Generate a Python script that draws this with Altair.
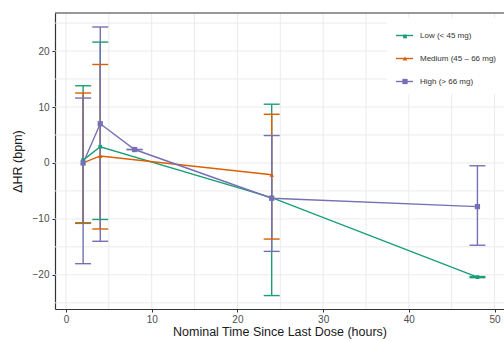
import altair as alt
import pandas as pd

groups = ["Low (< 45 mg)", "Medium (45 – 66 mg)", "High (> 66 mg)"]
codes = ["L", "M", "H"]
colors = ["#1b9e77", "#d95f02", "#7570b3"]
shapes = ["square", "triangle-up", "square"]
marker_sizes = [14, 28, 36]

low_time = [2, 4, 24, 48]
low_mean = [0.5, 2.9, -6.2, -20.4]
low_lower = [-10.7, -10.1, -23.7, -20.5]
low_upper = [13.8, 21.6, 10.5, -20.3]

med_time = [2, 4, 24]
med_mean = [0.0, 1.25, -2.1]
med_lower = [-10.8, -11.8, -13.6]
med_upper = [12.5, 17.6, 8.7]

high_time = [2, 4, 8, 24, 48]
high_mean = [0.0, 7.0, 2.4, -6.3, -7.8]
high_lower = [-18.0, -14.0, 2.4, -15.8, -14.7]
high_upper = [11.6, 24.3, 2.4, 4.9, -0.5]

x_ticks = [0, 10, 20, 30, 40, 50]
y_ticks = [-20, -10, 0, 10, 20]
x_grid = [0, 5, 10, 15, 20, 25, 30, 35, 40, 45, 50]
y_grid = [-25, -20, -15, -10, -5, 0, 5, 10, 15, 20, 25]

rows = []
series = [
    (low_time, low_mean, low_lower, low_upper),
    (med_time, med_mean, med_lower, med_upper),
    (high_time, high_mean, high_lower, high_upper),
]
for g, c, (t, m, lo, hi) in zip(groups, codes, series):
    for i in range(len(t)):
        rows.append(dict(group=g, code=c, time=t[i], mean=m[i], lower=lo[i], upper=hi[i]))
df = pd.DataFrame(rows)

W, H = 449, 296
FONT = "Liberation Sans"
xscale = alt.Scale(domain=[-1.28, 51.1], nice=False, zero=False)
yscale = alt.Scale(domain=[-26.1, 26.8], nice=False, zero=False)
xaxis = alt.Axis(values=x_ticks, grid=False, title="Nominal Time Since Last Dose (hours)",
                 labelFontSize=10, titleFontSize=12.5, titlePadding=1, tickSize=3, labelPadding=2)
yaxis = alt.Axis(values=y_ticks, grid=False, title="ΔHR (bpm)",
                 labelFontSize=10, titleFontSize=12.5, titlePadding=8, tickSize=3, labelPadding=3)


def X(field):
    return alt.X(field, type="quantitative", scale=xscale, axis=xaxis)


def Y(field):
    return alt.Y(field, type="quantitative", scale=yscale, axis=yaxis)


stroke_scale = alt.Scale(domain=groups, range=colors)
code_fill = alt.Scale(domain=codes, range=colors)
code_shape = alt.Scale(domain=codes, range=shapes)
code_size = alt.Scale(domain=codes, range=marker_sizes)

line_legend = alt.Legend(
    orient="none", legendX=332, legendY=5, title=None, symbolType="stroke",
    symbolSize=289, symbolStrokeWidth=1.4, labelFontSize=8, labelFont=FONT,
    labelColor="#333333", labelOffset=6, rowPadding=9, fillColor="white", padding=8,
)
pt_legend = alt.Legend(
    orient="none", legendX=338, legendY=11.5, title=None, labelFontSize=8,
    labelFont=FONT, labelExpr="''", rowPadding=12, padding=8, zindex=1,
)

gx = alt.Chart(pd.DataFrame({"g": x_grid})).mark_rule(color="#ebebeb", strokeWidth=1).encode(x=X("g"))
gy = alt.Chart(pd.DataFrame({"g": y_grid})).mark_rule(color="#ebebeb", strokeWidth=1).encode(y=Y("g"))
top = alt.Chart(pd.DataFrame({"g": [0]})).mark_rule(color="#333333", strokeWidth=1.2).encode(
    y=alt.value(0), x=alt.value(0), x2=alt.value(W))

base = alt.Chart(df)
lines = base.mark_line(strokeWidth=1.4).encode(
    x=X("time"), y=Y("mean"),
    stroke=alt.Stroke("group:N", scale=stroke_scale, legend=line_legend),
)
bars = base.mark_rule(strokeWidth=1.4).encode(
    x=X("time"), y=Y("lower"), y2="upper",
    stroke=alt.Stroke("group:N", scale=stroke_scale, legend=line_legend),
)
cap_lo = base.mark_rule(strokeWidth=1.4, xOffset=-8, x2Offset=8).encode(
    x=X("time"), x2="time", y=Y("lower"),
    stroke=alt.Stroke("group:N", scale=stroke_scale, legend=line_legend),
)
cap_hi = base.mark_rule(strokeWidth=1.4, xOffset=-8, x2Offset=8).encode(
    x=X("time"), x2="time", y=Y("upper"),
    stroke=alt.Stroke("group:N", scale=stroke_scale, legend=line_legend),
)
pts = base.mark_point(filled=True, opacity=1).encode(
    x=X("time"), y=Y("mean"),
    fill=alt.Fill("code:N", scale=code_fill, legend=pt_legend),
    shape=alt.Shape("code:N", scale=code_shape, legend=pt_legend),
    size=alt.Size("code:N", scale=code_size, legend=pt_legend),
)

chart = alt.layer(gx, gy, top, lines, bars, cap_lo, cap_hi, pts).properties(
    width=W, height=H,
    autosize=alt.AutoSizeParams(type="none"),
    padding={"left": 55, "top": 13, "right": 0, "bottom": 32},
).configure_view(stroke=None).configure_axis(
    domainColor="#333333", domainWidth=1.2, tickColor="#333333", tickWidth=1,
    labelColor="#4d4d4d", titleColor="#1a1a1a", labelFont=FONT, titleFont=FONT,
    titleFontWeight="normal",
)

chart.save("out.html", embed_options={"renderer": "svg", "actions": False})
